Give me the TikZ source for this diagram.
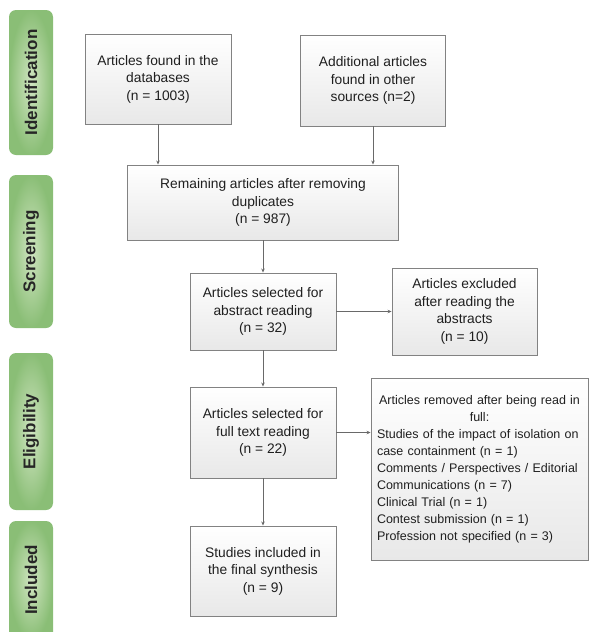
\documentclass[tikz,border=0pt]{standalone}
\usepackage{fontspec}
\setmainfont{Liberation Sans}
\usetikzlibrary{arrows.meta,positioning}
\definecolor{boxline}{RGB}{130,130,130}
\definecolor{boxshade}{RGB}{232,232,232}
\definecolor{phaseouter}{RGB}{138,190,118}
\definecolor{phaseinner}{RGB}{208,229,193}
\definecolor{flowline}{RGB}{105,105,105}

\begin{document}
\begin{tikzpicture}[
    x=1pt, y=-1pt,
    stage/.style={rectangle, draw=boxline, line width=0.9pt, top color=white,
                  bottom color=boxshade, align=center, inner sep=2pt,
                  font=\fontsize{13.8}{17.5}\selectfont, text=black!88},
    phase/.style={rectangle, rounded corners=7pt, inner color=phaseinner,
                  outer color=phaseouter, rotate=90, minimum height=44pt,
                  font=\fontsize{17}{20}\selectfont\bfseries, text=black!85},
    flow/.style={-{Stealth[length=4pt,width=3.5pt]}, line width=0.8pt, draw=flowline}
]
\useasboundingbox (0,0) rectangle (589,632);

% phases
\node[phase, minimum width=145pt] (idf) at (31,82.5)  {Identification};
\node[phase, minimum width=153pt] (scr) at (31,251.5) {Screening};
\node[phase, minimum width=157pt] (elg) at (31,431.5) {Eligibility};
\node[phase, minimum width=118pt] (inc) at (31,580)   {Included};

% boxes
\node[stage, minimum width=146pt, minimum height=90pt] (found) at (158,79)
    {Articles found in the\\databases\\(n = 1003)};
\node[stage, minimum width=145pt, minimum height=91pt] (other) at (373,80.5)
    {Additional articles\\found in other\\sources (n=2)};
\node[stage, minimum width=271pt, minimum height=75pt] (dedup) at (263,202.5)
    {Remaining articles after removing\\duplicates\\(n = 987)};
\node[stage, minimum width=146pt, minimum height=77pt] (abstr) at (263,311.5)
    {Articles selected for\\abstract reading\\(n = 32)};
\node[stage, minimum width=145pt, minimum height=87pt] (exabs) at (464.5,311.5)
    {Articles excluded\\after reading the\\abstracts\\(n = 10)};
\node[stage, minimum width=146pt, minimum height=91pt] (fulltx) at (263,432.5)
    {Articles selected for\\full text reading\\(n = 22)};
\node[stage, minimum width=217pt, minimum height=182pt, text width=205pt, align=left,
      font=\fontsize{12.5}{17}\selectfont] (exfull) at (479.5,469)
    {\centering Articles removed after being read in\\full:\par
     \raggedright Studies of the impact of isolation on\\case containment (n = 1)\\
     Comments / Perspectives / Editorial\\Communications (n = 7)\\
     Clinical Trial (n = 1)\\Contest submission (n = 1)\\
     Profession not specified (n = 3)};
\node[stage, minimum width=146pt, minimum height=90pt] (incl) at (263,571)
    {Studies included in\\the final synthesis\\(n = 9)};

% arrows
\draw[flow] (found.south) -- (found.south |- dedup.north);
\draw[flow] (other.south) -- (other.south |- dedup.north);
\draw[flow] (dedup.south) -- (abstr.north);
\draw[flow] (abstr.east) -- (exabs.west);
\draw[flow] (abstr.south) -- (fulltx.north);
\draw[flow] (fulltx.east) -- (fulltx.east -| exfull.west);
\draw[flow] (fulltx.south) -- (incl.north);
\end{tikzpicture}
\end{document}
